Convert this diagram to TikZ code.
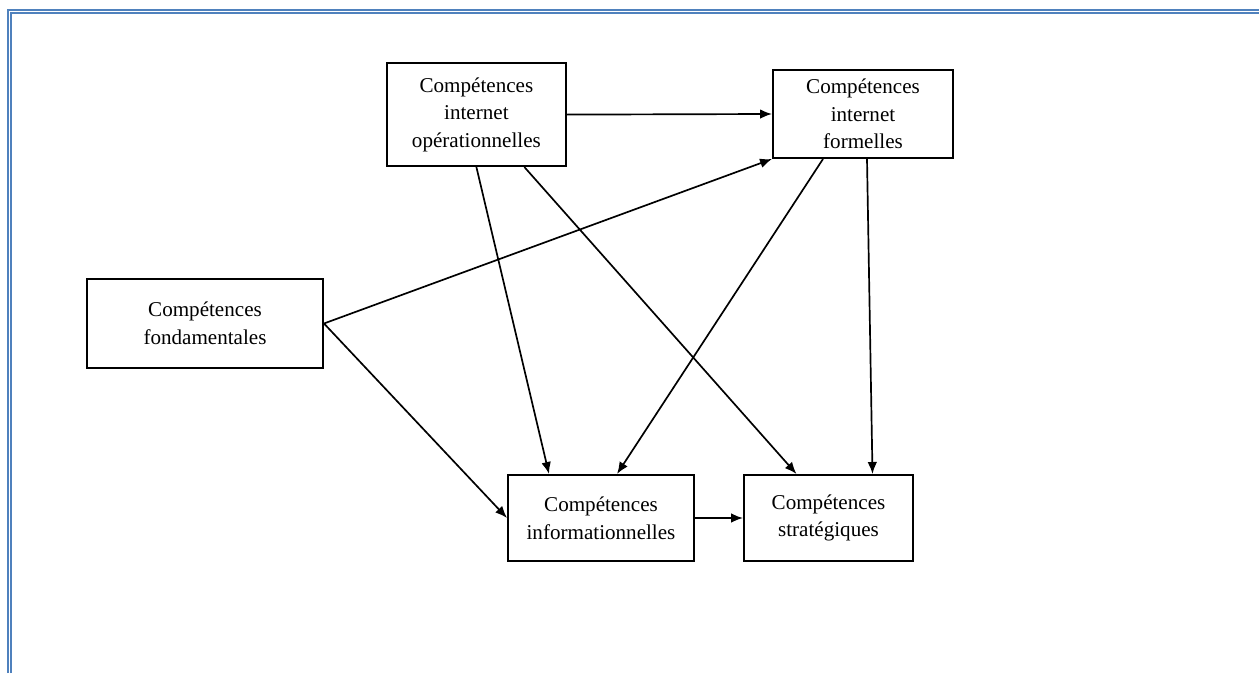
\documentclass[tikz,border=0pt]{standalone}
\usepackage{fontspec}
\setmainfont{Liberation Serif}
\usepackage{xcolor}
\usepackage{tikz}
\usetikzlibrary{arrows.meta, positioning}
\definecolor{frameBlue}{RGB}{79,129,189}
\tikzstyle{arrow}    = [-{Latex[length=3mm, width=2.4mm]}, line width=1.2pt]

\begin{document}
\begin{tikzpicture}[
  skill/.style={draw, line width=1.4pt, align=center, inner sep=0pt, font=\fontsize{15}{19.6}\selectfont},
  frame/.style={frameBlue, line width=1.6pt}
]
\useasboundingbox (0,0) rectangle (31.475,16.825);

% Page frame
\draw[frame] (0.2,0) -- (0.2,16.575) -- (31.475,16.575);
\draw[frame] (0.275,0) -- (0.275,16.5) -- (31.475,16.5);

% Top row
\node[skill, minimum width=4.475cm, minimum height=2.575cm] (operational) at (11.91,13.96)
  {Compétences\\internet\\opérationnelles};
\node[skill, minimum width=4.5cm, minimum height=2.2cm] (formal) at (21.575,13.975)
  {Compétences\\internet\\formelles};

% Left
\node[skill, minimum width=5.9cm, minimum height=2.225cm] (basic) at (5.125,8.7375)
  {Compétences\\fondamentales};

% Bottom row
\node[skill, minimum width=4.65cm, minimum height=2.15cm] (info) at (15.025,3.875)
  {Compétences\\informationnelles};
\node[skill, minimum width=4.225cm, minimum height=2.15cm] (strategic) at (20.7125,3.875)
  {Compétences\\stratégiques};

% Arrows
\draw[arrow] (operational.east) -- (formal.west);
\draw[arrow] (basic.east) -- (formal.south west);
\draw[arrow] (basic.east) -- (info.west);
\draw[arrow] (operational.south) -- ([xshift=-1.3cm]info.north);
\draw[arrow] ([xshift=1.2cm]operational.south) -- ([xshift=-0.8cm]strategic.north);
\draw[arrow] ([xshift=-1cm]formal.south) -- ([xshift=0.4cm]info.north);
\draw[arrow] ([xshift=0.1cm]formal.south) -- ([xshift=1.1cm]strategic.north);
\draw[arrow] (info.east) -- (strategic.west);

\end{tikzpicture}
\end{document}
